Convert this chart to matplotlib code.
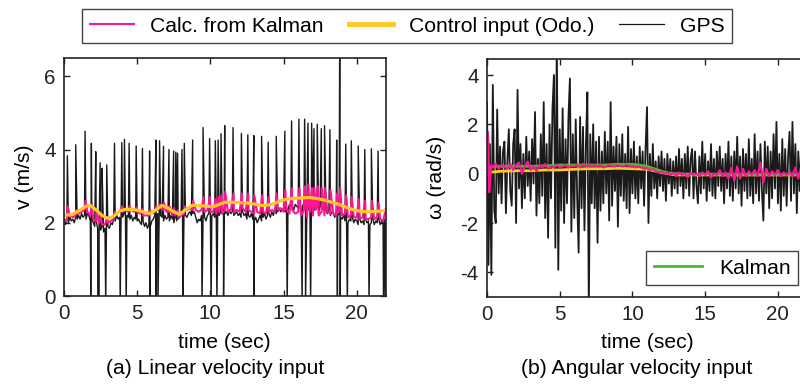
import numpy as np
import matplotlib
matplotlib.use("Agg")
import matplotlib.pyplot as plt
from matplotlib.lines import Line2D

plt.rcParams['font.family'] = ['Liberation Sans', 'DejaVu Sans']
plt.rcParams['axes.unicode_minus'] = False

# ---------------- data: (a) linear velocity ----------------
gps_v_base = [
    2.05, 1.95, 2.10, 2.00, 2.15, 2.05, 2.10, 2.00, 2.15, 2.10,
    2.20, 2.10, 2.25, 2.15, 2.20, 2.10, 2.25, 2.20, 2.05, 2.15,
    2.00, 1.90, 2.05, 1.85, 1.95, 1.80, 1.90, 1.75, 1.85, 1.80,
    1.90, 1.85, 2.00, 1.95, 2.10, 2.05, 2.20, 2.10, 2.15, 2.20,
    2.15, 2.25, 2.10, 2.20, 2.15, 2.10, 2.20, 2.05, 2.15, 2.10,
    2.05, 2.10, 2.00, 1.95, 2.05, 1.90, 2.00, 1.85, 1.95, 1.90,
    2.05, 2.10, 2.20, 2.15, 2.25, 2.10, 2.20, 2.15, 2.05, 2.20,
    2.10, 2.15, 2.05, 2.20, 2.10, 2.00, 2.15, 2.05, 2.10, 2.15,
    2.20, 2.10, 2.30, 2.20, 2.15, 2.25, 2.30, 2.20, 2.25, 2.30,
    2.15, 2.00, 2.10, 2.05, 2.20, 2.10, 2.15, 2.05, 2.20, 2.25,
    2.30, 2.20, 2.25, 2.15, 2.30, 2.25, 2.20, 2.30, 2.25, 2.35,
    2.25, 2.30, 2.20, 2.35, 2.25, 2.30, 2.20, 2.25, 2.30, 2.20,
    2.25, 2.15, 2.30, 2.20, 2.25, 2.10, 2.20, 2.15, 2.25, 2.10,
    2.05, 2.15, 2.00, 2.10, 2.20, 2.05, 2.15, 2.25, 2.10, 2.20,
    2.25, 2.15, 2.30, 2.20, 2.35, 2.25, 2.30, 2.40, 2.30, 2.35,
    2.40, 2.30, 2.45, 2.35, 2.50, 2.40, 2.45, 2.35, 2.50, 2.45,
    2.40, 2.50, 2.35, 2.45, 2.55, 2.40, 2.50, 2.35, 2.45, 2.40,
    2.45, 2.35, 2.50, 2.40, 2.30, 2.45, 2.35, 2.40, 2.30, 2.35,
    2.25, 2.35, 2.20, 2.30, 2.25, 2.15, 2.30, 2.20, 2.25, 2.15,
    2.10, 2.20, 2.05, 2.15, 2.00, 2.10, 2.05, 2.15, 2.00, 2.10,
    2.05, 1.95, 2.10, 2.00, 2.05, 1.95, 2.10, 2.00, 2.05, 1.95,
    2.00, 2.10, 1.95, 2.05, 2.00, 2.10, 1.95, 2.05, 2.00, 2.10,
    2.00,
]
gps_v_up_t = [0.23, 0.8, 1.44, 1.87, 2.17, 2.47, 2.6, 2.92, 3.45, 3.95, 4.13, 4.45,
              4.93, 5.36, 5.85, 6.28, 6.53, 6.8, 7.17, 7.49, 7.64, 7.76, 8.06, 8.22,
              8.79, 9.5, 9.95, 10.34, 10.53, 10.73, 10.98, 11.55, 12.12, 12.56, 12.97,
              13.5, 13.95, 14.5, 15.09, 15.55, 16.05, 16.44, 16.67, 16.92, 17.08,
              17.3, 17.58, 17.8, 18.17, 18.63, 18.84, 19.25, 19.63, 20.1, 20.55,
              21.0, 21.46]
gps_v_up_v = [3.83, 4.13, 4.5, 4.17, 3.94, 3.64, 3.49, 3.58, 4.17, 4.19, 4.28, 4.17,
              4.1, 4.03, 3.96, 4.26, 4.24, 4.09, 4.0, 3.96, 3.93, 3.9, 4.0, 4.17,
              4.26, 4.6, 4.3, 4.24, 4.26, 4.43, 4.65, 4.6, 4.44, 4.4, 4.38,
              4.36, 4.2, 4.36, 4.5, 4.78, 4.83, 4.83, 4.72, 4.72, 4.57,
              4.69, 4.57, 4.65, 4.54, 4.26, 7.5, 4.15, 4.24, 4.1, 4.0,
              4.02, 3.96]
gps_v_down_t = [1.83, 2.31, 2.4, 2.85, 3.84, 4.25, 5.89, 6.3, 6.42, 8.13, 9.43,
                10.05, 10.45, 10.9, 12.97, 15.25, 16.27, 16.5, 16.85, 18.68, 18.87,
                19.36, 20.84, 21.83, 21.95]
gps_v_down_v = [-0.2] * len(gps_v_down_t)

odo_v_t = [0, 0.5, 1.0, 1.5, 1.8, 2.2, 2.6, 3.0, 3.4, 3.8, 4.2, 4.8, 5.4, 5.9, 6.3,
           6.7, 7.1, 7.5, 7.9, 8.3, 8.8, 9.5, 10.2, 10.6, 11.0, 11.5, 12.0, 12.5,
           13.0, 13.6, 14.2, 14.8, 15.3, 15.8, 16.3, 16.8, 17.3, 17.8, 18.3, 18.8,
           19.3, 19.8, 20.3, 20.8, 21.3, 21.8, 22.0]
odo_v = [2.21, 2.22, 2.32, 2.45, 2.47, 2.35, 2.2, 2.12, 2.18, 2.32, 2.37, 2.36, 2.3,
         2.25, 2.36, 2.47, 2.4, 2.3, 2.23, 2.36, 2.48, 2.46, 2.44, 2.5, 2.56, 2.56,
         2.55, 2.54, 2.51, 2.47, 2.5, 2.6, 2.65, 2.67, 2.68, 2.69, 2.66, 2.62, 2.56,
         2.5, 2.42, 2.35, 2.31, 2.3, 2.31, 2.33, 2.34]

kal_v_base = [
    2.10, 2.05, 2.20, 2.15, 2.20, 2.25, 2.30, 2.35, 2.30, 2.20,
    2.10, 2.05, 2.00, 1.95, 1.95, 2.00, 2.05, 2.10, 2.25, 2.30,
    2.30, 2.35, 2.30, 2.35, 2.30, 2.30, 2.25, 2.20, 2.20, 2.20,
    2.25, 2.30, 2.35, 2.40, 2.35, 2.30, 2.30, 2.20, 2.20, 2.15,
    2.20, 2.25, 2.35, 2.40, 2.35, 2.35, 2.30, 2.35, 2.30, 2.35,
    2.30, 2.30, 2.25, 2.30, 2.25, 2.35, 2.30, 2.35, 2.30, 2.35,
    2.30, 2.40, 2.30, 2.35, 2.30, 2.25, 2.30, 2.25, 2.30, 2.25,
    2.30, 2.35, 2.30, 2.35, 2.40, 2.30, 2.35, 2.25, 2.35, 2.25,
    2.30, 2.20, 2.35, 2.15, 2.30, 2.20, 2.35, 2.20, 2.30, 2.20,
    2.30, 2.25, 2.25, 2.20, 2.30, 2.20, 2.25, 2.15, 2.20, 2.15,
    2.15, 2.10, 2.15, 2.10, 2.10, 2.15, 2.10, 2.15, 2.10, 2.05,
    2.40,
]
kal_v_pk_t = [0.25, 0.83, 1.47, 1.9, 2.2, 2.5, 2.95, 3.48, 3.98, 4.48, 4.96, 5.39,
              5.88, 6.31, 6.56, 6.83, 7.2, 7.52, 7.79, 8.25, 8.82, 9.53, 9.98, 10.37,
              10.56, 10.76, 11.01, 11.58, 12.15, 12.59, 13.0, 13.53, 13.98, 14.53,
              15.12, 15.58, 16.08, 16.47, 16.7, 16.95, 17.11, 17.33, 17.61, 17.83,
              18.2, 18.66, 18.87, 19.28, 19.66, 20.13, 20.58, 21.03, 21.49]
kal_v_pk = [2.45, 2.35, 2.6, 2.5, 2.3, 2.2, 2.15, 2.3, 2.45, 2.45, 2.42, 2.38,
            2.35, 2.45, 2.5, 2.55, 2.45, 2.4, 2.35, 2.45, 2.6, 2.7, 2.7, 2.65,
            2.7, 2.75, 2.85, 2.8, 2.8, 2.8, 2.75, 2.75, 2.7, 2.8,
            2.9, 2.95, 2.95, 3.0, 3.05, 2.95, 2.95, 3.0, 2.95, 2.95,
            2.9, 2.8, 2.95, 2.75, 2.7, 2.65, 2.6, 2.6, 2.55]

# ---------------- data: (b) angular velocity ----------------
gps_w = [
    2.9, -3.7, 1.2, -4.1, 3.6, -1.5, -2.0, 2.6, -0.8, 1.1,
    -1.2, 0.9, 1.3, -1.6, 0.5, 1.8, -0.7, -1.3, 1.2, 1.8,
    -2.0, 3.4, -0.6, 1.2, -1.4, 0.8, -1.0, 1.5, -0.5, 0.9,
    -1.1, 1.4, -0.4, 2.5, -1.7, 0.6, -1.2, 1.6, -0.9, 2.9,
    -1.8, 1.2, -2.6, 2.0, -1.0, 2.6, 4.0, -3.0, 5.5, -3.9,
    1.8, -1.5, 2.65, -2.0, 1.4, -1.2, 2.3, 3.86, -2.35, 1.6,
    -1.8, 2.2, -1.0, -3.2, 2.3, -1.4, 1.9, -2.3, 1.2, 3.3,
    -5.5, 1.6, -1.2, 2.0, -1.4, 1.3, -2.8, 1.5, -1.5, 0.9,
    -1.2, 1.7, -0.8, 1.3, -1.9, 2.9, -1.3, 1.1, -0.7, 1.5,
    -2.15, 1.2, -0.9, 1.6, -1.1, 0.8, -1.4, 1.9, -1.6, 1.0,
    -0.8, 1.3, -1.0, 0.7, -1.2, 1.1, -0.6, 0.9, -1.3, 1.0,
    2.7, -2.0, 0.8, -0.9, 1.2, -0.6, 0.5, -1.0, 0.7, -0.5,
    0.9, -0.7, 0.6, -1.1, 0.8, -0.4, 0.6, -0.9, 0.5, -0.6,
    0.7, -0.8, 1.0, -0.5, 0.6, -1.0, 0.8, -0.6, 1.1, -0.9,
    0.6, 1.0, -1.0, 0.9, -0.5, -1.2, 0.7, -0.8, 1.3, -0.6,
    0.8, -1.1, 0.5, -0.7, 1.2, -0.9, 0.6, -1.0, 0.9, -0.5,
    1.1, -0.7, 0.6, -1.2, 0.8, -0.6, 1.3, -0.9, 0.7, -1.1,
    0.9, -0.6, 1.5, -0.8, 0.7, -1.3, 1.0, -0.7, 0.8, -1.0,
    1.4, -0.9, 0.6, -1.2, 1.6, -0.8, 0.9, -1.1, 1.2, -0.7,
    -1.9, 1.3, -0.8, 1.1, -1.4, 0.9, -1.0, 1.6, -0.6, 2.1,
    -1.2, 0.8, -1.5, 1.4, -0.9, 1.0, -1.3, 0.7, 1.7, -1.1,
    2.1, -0.8, 1.2, -1.6, 0.9, -0.7, 1.1, -1.0, 0.8, -0.9,
    0.5,
]
kal_w_t = [0, 0.5, 1, 2, 3, 4, 5, 6, 7, 8, 9, 10, 10.5, 11, 11.5, 12, 12.5, 13,
           14, 16, 18, 20, 22]
kal_w = [0.2, 0.3, 0.3, 0.3, 0.3, 0.32, 0.35, 0.35, 0.35, 0.35, 0.38, 0.38, 0.35,
         0.3, 0.2, 0.1, 0.02, 0.0, -0.02, -0.02, -0.03, -0.03, -0.03]
odo_w_t = [0, 1, 2, 3, 4, 5, 6, 7, 8, 9, 10, 11, 11.5, 12, 12.5, 13, 14, 16, 18,
           20, 22]
odo_w = [0.05, 0.1, 0.12, 0.12, 0.15, 0.15, 0.18, 0.2, 0.2, 0.22, 0.2, 0.18, 0.12,
         0.05, 0.0, -0.05, -0.05, -0.05, -0.05, -0.05, -0.05]
calc_w_t0 = [0.0, 0.05, 0.1, 0.15, 0.2, 0.3]
calc_w_0 = [0.0, 1.7, 1.3, -0.75, -0.4, 0.35]
calc_w = [
    0.25, 0.4, 0.2, 0.35, 0.3, 0.2, 0.4, 0.15, 0.35, 0.45,
    0.0, 0.3, 0.5, 0.15, 0.3, 0.1, 0.35, 0.25, 0.4, 0.2,
    0.3, 0.25, 0.35, 0.25, 0.3, 0.35, 0.25, 0.3, 0.3, 0.35,
    0.25, 0.4, 0.3, 0.35, 0.3, 0.35, 0.3, 0.35, 0.25, 0.3,
    0.35, 0.3, 0.3, 0.35, 0.3, 0.3, 0.35, 0.3, 0.3, 0.25,
    0.3, 0.25, 0.2, 0.22, 0.15, 0.18, 0.1, 0.05, 0.08, 0.0,
    0.05, -0.05, 0.05, -0.1, 0.05, -0.05, 0.0, -0.15, 0.05, -0.05,
    0.0, -0.1, 0.05, -0.05, 0.1, -0.15, 0.0, -0.05, 0.15, -0.1,
    0.05, -0.2, 0.25, -0.3, 0.3, -0.2, 0.2, -0.1, 0.1, -0.05,
    0.15, -0.1, 0.45, -0.35, 0.2, -0.1, 0.1, -0.05, 0.15, -0.1,
    0.05, -0.05, 0.1, -0.1, 0.25, -0.2, 0.3, -0.15, 0.2,
]

# ---------------- assemble series ----------------
def merge(t_a, v_a, t_b, v_b):
    t = np.concatenate([np.asarray(t_a, float), np.asarray(t_b, float)])
    v = np.concatenate([np.asarray(v_a, float), np.asarray(v_b, float)])
    o = np.argsort(t, kind='stable')
    return t[o], v[o]

t_base = np.arange(len(gps_v_base)) * 0.1
t_gv, v_gv = merge(t_base, gps_v_base, gps_v_up_t + gps_v_down_t, gps_v_up_v + gps_v_down_v)
t_kb = np.arange(len(kal_v_base)) * 0.2
t_kv, v_kv = merge(t_kb, kal_v_base, kal_v_pk_t, kal_v_pk)
t_gw = np.arange(len(gps_w)) * 0.1
t_cw = np.concatenate([calc_w_t0, 0.4 + np.arange(len(calc_w)) * 0.2])
v_cw = np.concatenate([calc_w_0, calc_w])

MAG = '#ff1493'
YEL = '#ffc825'
GRN = '#4cb832'
FS = 15.2
TFS = 14.8

fig = plt.figure(figsize=(8, 3.85), dpi=100)
ax1 = fig.add_axes([64/800, 1-296/385, 322/800, 238/385])
ax2 = fig.add_axes([487/800, 1-297/385, 320/800, 238/385])

ax1.plot(t_gv, v_gv, color='#1a1a1a', lw=1.0)
ax1.plot(t_kv, v_kv, color=MAG, lw=1.5)
ax1.plot(odo_v_t, odo_v, color=YEL, lw=2.3)
ax1.set_xlim(0, 22)
ax1.set_ylim(0, 6.5)
ax1.set_xticks([0, 5, 10, 15, 20])
ax1.set_yticks([0, 2, 4, 6])

ax2.plot(t_gw, gps_w, color='#1a1a1a', lw=1.3)
ax2.plot(odo_w_t, odo_w, color=YEL, lw=2.0)
l_green, = ax2.plot(kal_w_t, kal_w, color=GRN, lw=2.0)
ax2.plot(t_cw, v_cw, color=MAG, lw=1.5)
ax2.set_xlim(0, 22)
ax2.set_ylim(-5, 4.65)
ax2.set_xticks([0, 5, 10, 15, 20])
ax2.set_yticks([-4, -2, 0, 2, 4])

for ax in (ax1, ax2):
    ax.tick_params(direction='in', top=True, right=True, length=4, width=1,
                   labelsize=TFS, pad=6, colors='#222222')
    for s in ax.spines.values():
        s.set_linewidth(1.2)
        s.set_color('#222222')

fig.text(224/800, 1-342/385, 'time (sec)', ha='center', va='center', fontsize=FS)
fig.text(215/800, 1-368/385, '(a) Linear velocity input', ha='center', va='center', fontsize=FS)
fig.text(647/800, 1-342/385, 'time (sec)', ha='center', va='center', fontsize=FS)
fig.text(637/800, 1-368/385, '(b) Angular velocity input', ha='center', va='center', fontsize=FS)
fig.text(25/800, 1-177/385, 'v (m/s)', ha='center', va='center', rotation=90, fontsize=FS)
fig.text(437/800, 1-177/385, 'ω (rad/s)', ha='center', va='center', rotation=90, fontsize=FS)

h1 = Line2D([], [], color=MAG, lw=1.5)
h2 = Line2D([], [], color=YEL, lw=3.5)
h3 = Line2D([], [], color='#1a1a1a', lw=0.9)
leg = fig.legend([h1, h2, h3], ['Calc. from Kalman', 'Control input (Odo.)', 'GPS'],
                 loc='center', bbox_to_anchor=(407/800, 1-26/385),
                 ncol=3, borderaxespad=0, fontsize=FS,
                 handlelength=2.1, handletextpad=0.75, columnspacing=1.2,
                 borderpad=0.35, fancybox=False,
                 edgecolor='#444444', framealpha=1)
leg.get_frame().set_linewidth(1.0)

leg2 = ax2.legend([l_green], ['Kalman'], loc='lower right',
                  bbox_to_anchor=(798/800, 1-285/385), bbox_transform=fig.transFigure,
                  borderaxespad=0, fontsize=FS, handlelength=2.3, handletextpad=0.8,
                  borderpad=0.35, fancybox=False, edgecolor='#444444', framealpha=1)
leg2.get_frame().set_linewidth(1.0)

fig.savefig('out.png', dpi=100)
